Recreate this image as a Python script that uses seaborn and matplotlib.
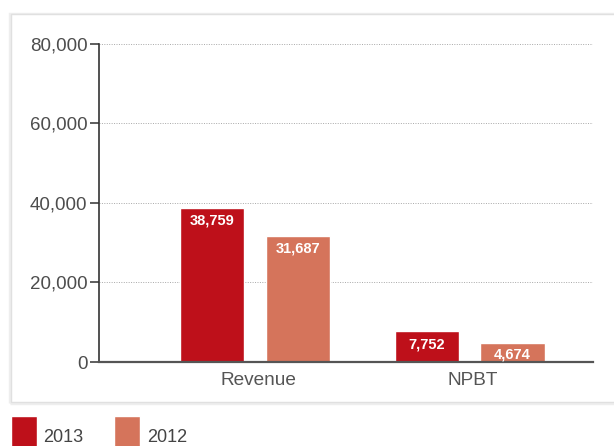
#!/usr/bin/env python3

import pandas as pd
import seaborn as sns
import matplotlib.pyplot as plt
from matplotlib.patches import Rectangle
from matplotlib.ticker import StrMethodFormatter
from matplotlib.transforms import ScaledTranslation

# -----------------------------------------------------------------------------
# Data
# -----------------------------------------------------------------------------

metrics = ["Revenue", "NPBT"]
years = ["2013", "2012"]
values_2013 = [38759, 7752]
values_2012 = [31687, 4674]
y_ticks = [0, 20000, 40000, 60000, 80000]

colors = {"2013": "#BE101A", "2012": "#D5745B"}

# -----------------------------------------------------------------------------
# Plot
# -----------------------------------------------------------------------------

def main():
    df = pd.DataFrame({
        "metric": metrics * 2,
        "year": [years[0]] * len(metrics) + [years[1]] * len(metrics),
        "value": values_2013 + values_2012,
    })

    sns.set_theme(style="white")
    plt.rcParams["font.family"] = ["Liberation Sans", "DejaVu Sans"]

    fig = plt.figure(figsize=(6.14, 4.46), dpi=100)
    ax = fig.add_axes([0.1620, 0.1883, 0.8037, 0.7141])
    ax.set_facecolor("white")

    # panel box with a light shadow
    fig.patches.append(Rectangle((0.0165, 0.0955), 1.0, 0.874, transform=fig.transFigure,
                                 facecolor="none", edgecolor="#eeeeee", lw=2.5, zorder=-2))
    fig.patches.append(Rectangle((0.018, 0.098), 1.0, 0.870, transform=fig.transFigure,
                                 facecolor="white", edgecolor="#e0e0e0", lw=1, zorder=-1))

    sns.barplot(data=df, x="metric", y="value", hue="year", hue_order=years,
                order=metrics, palette=colors, width=0.8, gap=0.25,
                errorbar=None, saturation=1, ax=ax)

    ax.set_ylim(0, 80000)
    ax.set_xlim(-0.724, 1.574)

    # value labels inside the bars, near the top
    px_per_unit = ax.get_position().height * fig.get_figheight() * fig.dpi / 80000
    for cont in ax.containers:
        for bar, val in zip(cont.patches, cont.datavalues):
            h_px = val * px_per_unit
            off = min(13, h_px / 2 + 2)
            ax.annotate(f"{val:,.0f}", (bar.get_x() + bar.get_width() / 2, val),
                        xytext=(0, -off), textcoords="offset pixels",
                        ha="center", va="center", color="white",
                        fontweight="bold", fontsize=10.5)

    ax.set_yticks(y_ticks)
    ax.yaxis.set_major_formatter(StrMethodFormatter("{x:,.0f}"))
    ax.set_xlabel("")
    ax.set_ylabel("")

    ax.yaxis.grid(True, color="#a8a8a8", linestyle=(0, (1, 1.5)), lw=0.7)
    ax.set_axisbelow(True)

    sns.despine(ax=ax)
    ax.spines["left"].set_color("#333333")
    ax.spines["left"].set_linewidth(1.2)
    ax.spines["bottom"].set_color("#555555")
    ax.spines["bottom"].set_linewidth(1.6)

    ax.tick_params(axis="y", left=True, length=6.5, width=1.1, color="#333333",
                   pad=2.2, labelsize=13.5, labelcolor="#4d4d4d")
    ax.tick_params(axis="x", bottom=False, length=0, pad=7,
                   labelsize=13.7, labelcolor="#555555")
    shift = ScaledTranslation(3 / 100, 0, fig.dpi_scale_trans)
    for lbl in ax.get_xticklabels():
        lbl.set_transform(lbl.get_transform() + shift)

    handles, labels = ax.get_legend_handles_labels()
    ax.get_legend().remove()
    fig.legend(handles, labels, loc="upper left",
               bbox_to_anchor=(11 / 614, 1 - 416 / 446), ncol=2, frameon=False,
               borderpad=0, borderaxespad=0, fontsize=13, labelcolor="#444444",
               handlelength=1.45, handleheight=3.2, handletextpad=0.35,
               columnspacing=1.7)

    fig.savefig("out.png", dpi=100)
    plt.close(fig)


if __name__ == "__main__":
    main()
